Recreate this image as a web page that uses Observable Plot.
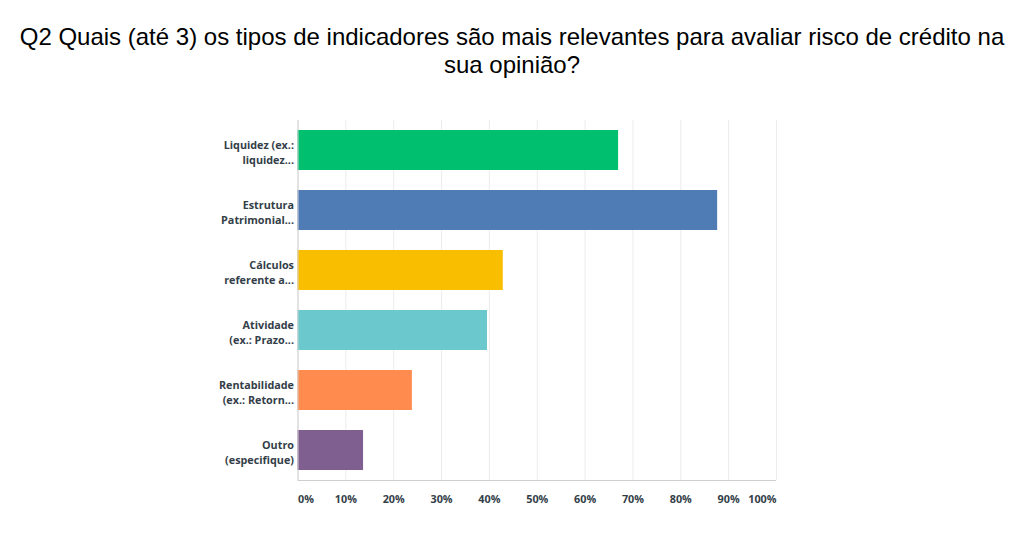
<!DOCTYPE html>
<html>
<head>
<meta charset="utf-8">
<script src="https://cdn.jsdelivr.net/npm/d3@7"></script>
<script src="https://cdn.jsdelivr.net/npm/@observablehq/plot@0.6"></script>
<style>
  html, body { margin: 0; padding: 0; background: #fff; }
  #title {
    font-family: "Liberation Sans", Arial, sans-serif;
    font-size: 24px;
    line-height: 28px;
    color: #000;
    text-align: center;
    padding-top: 23px;
    height: 57px;
    width: 1024px;
  }
  #chart svg { display: block; }
</style>
</head>
<body>
<div id="title">Q2 Quais (até 3) os tipos de indicadores são mais relevantes para avaliar risco de crédito na<br>sua opinião?</div>
<div id="chart"></div>
<script>
const categories = [
  "Liquidez (ex.:\nliquidez...",
  "Estrutura\nPatrimonial...",
  "Cálculos\nreferente a...",
  "Atividade\n(ex.: Prazo...",
  "Rentabilidade\n(ex.: Retorn...",
  "Outro\n(especifique)"
];
const values = [67.0, 87.7, 42.9, 39.6, 23.9, 13.7];
const colors = ["#00bf6f", "#507cb6", "#f9be00", "#6bc8cd", "#ff8b4f", "#7f5f90"];
const xTicks = [0, 10, 20, 30, 40, 50, 60, 70, 80, 90, 100];

const data = categories.map((c, i) => ({label: c, value: values[i]}));
const font = "'Open Sans', Roboto, sans-serif";
const tickColor = "#333e48";
const fs = 10.8;

const chart = Plot.plot({
  width: 1024,
  height: 453,
  marginTop: 40,
  marginBottom: 53,
  marginLeft: 297.5,
  marginRight: 248,
  style: {fontFamily: font, background: "#fff"},
  x: {domain: [0, 100], axis: null},
  y: {domain: categories, paddingInner: 1/3, paddingOuter: 1/6, axis: null},
  color: {domain: categories, range: colors},
  marks: [
    Plot.ruleX(xTicks, {stroke: "#ececec", strokeWidth: 1}),
    Plot.barX(data, {x: "value", y: "label", fill: "label"}),
    Plot.ruleX([0], {stroke: "#cfcfcf", strokeWidth: 1}),
    Plot.ruleY([categories[categories.length - 1]], {dy: 30, stroke: "#cfcfcf", strokeWidth: 1}),
    Plot.axisY({tickSize: 0, tickPadding: 4, fontSize: fs, fontWeight: 700, fill: tickColor, lineHeight: 1.38, textAnchor: "end", label: null, dy: 1}),
    Plot.text(xTicks.filter(d => d === 0), {x: d => d, frameAnchor: "bottom", lineAnchor: "middle", dy: 19, text: d => d + "%", textAnchor: "start", fontSize: fs, fontWeight: 700, fill: tickColor}),
    Plot.text(xTicks.filter(d => d > 0 && d < 100), {x: d => d, frameAnchor: "bottom", lineAnchor: "middle", dy: 19, text: d => d + "%", textAnchor: "middle", fontSize: fs, fontWeight: 700, fill: tickColor}),
    Plot.text(xTicks.filter(d => d === 100), {x: d => d, frameAnchor: "bottom", lineAnchor: "middle", dy: 19, text: d => d + "%", textAnchor: "end", fontSize: fs, fontWeight: 700, fill: tickColor})
  ]
});
document.getElementById("chart").appendChild(chart);
</script>
</body>
</html>
